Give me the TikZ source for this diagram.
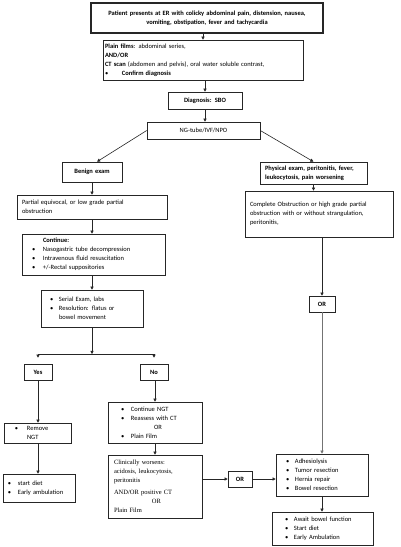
\documentclass[tikz,border=0pt]{standalone}
\usepackage{fontspec}
\setmainfont{Carlito}
\newfontfamily\serifface{Liberation Serif}
\usetikzlibrary{arrows.meta}
\newcommand\fsz{\fontsize{6.5}{9}\selectfont}
\newcommand\bul[1]{\makebox[#1][l]{\textbullet}}
\begin{document}
\begin{tikzpicture}[x=1pt,y=-1pt,
  box/.style={draw=black!85, line width=0.6pt, inner xsep=2pt, inner ysep=1pt, align=left, font=\fsz},
  cbox/.style={box, align=center},
  arr/.style={draw=black!85, line width=0.6pt, -{Triangle[length=3.2pt,width=3.2pt]}},
  ln/.style={draw=black!85, line width=0.6pt}]
\useasboundingbox (0,0) rectangle (400,547);
\fill[white] (0,0) rectangle (400,547);

\node[cbox, line width=1.3pt, minimum width=232pt, minimum height=30pt, text width=228pt] (top) at (207,18)
  {\textbf{Patient presents at ER with colicky abdominal pain, distension, nausea,}\\\textbf{vomiting, obstipation, fever and tachycardia}};
\node[box, minimum width=200pt, minimum height=40pt, text width=196pt] (plain) at (203,60)
  {\textbf{Plain films}:  abdominal series,\\\textbf{AND/OR}\\\textbf{CT scan} (abdomen and pelvis), oral water soluble contrast,\\\bul{17pt}\textbf{Confirm diagnosis}};
\node[cbox, minimum width=74pt, minimum height=17pt, text width=70pt] (diag) at (205,100.5) {\textbf{Diagnosis: SBO}};
\node[cbox, minimum width=113pt, minimum height=17pt, text width=109pt] (ng) at (203.5,130.5) {NG-tube/IVF/NPO};
\node[cbox, minimum width=60pt, minimum height=20pt, text width=56pt] (benign) at (92,172) {\textbf{Benign exam}};
\node[box, minimum width=107pt, minimum height=22pt, text width=103pt] (phys) at (313.5,173)
  {\hspace*{3pt}\textbf{Physical exam, peritonitis, fever,}\\\hspace*{3pt}\textbf{leukocytosis, pain worsening}};
\node[box, minimum width=150pt, minimum height=24pt, text width=146pt] (partial) at (92,207)
  {\hspace*{3pt}Partial equivocal, or low grade partial\\\hspace*{3pt}obstruction};
\node[box, minimum width=148pt, minimum height=46pt, text width=144pt] (complete) at (319,214)
  {\hspace*{3pt}Complete Obstruction or high grade partial\\\hspace*{3pt}obstruction with or without strangulation,\\\hspace*{3pt}peritonitis,};
\node[box, minimum width=143pt, minimum height=41pt, text width=139pt] (cont) at (93.5,254.5)
  {\hspace*{19pt}\textbf{Continue:}\\\hspace*{8pt}\bul{11pt}Nasogastric tube decompression\\\hspace*{8pt}\bul{11pt}Intravenous fluid resuscitation\\\hspace*{8pt}\bul{11pt}+/-Rectal suppositories};
\node[box, minimum width=102pt, minimum height=37pt, text width=98pt] (serial) at (92,308.5)
  {\hspace*{7pt}\bul{9pt}Serial Exam, labs\\\hspace*{7pt}\bul{9pt}Resolution: flatus or\\\hspace*{16pt}bowel movement};
\node[cbox, minimum width=28pt, minimum height=16pt, text width=24pt] (yes) at (38,372) {\textbf{Yes}};
\node[cbox, minimum width=28pt, minimum height=16pt, text width=24pt] (no) at (154,372) {\textbf{No}};
\node[box, minimum width=67pt, minimum height=20pt, text width=63pt] (remove) at (37.5,433)
  {\hspace*{9pt}\bul{12pt}Remove\\\hspace*{21pt}NGT};
\node[box, minimum width=72pt, minimum height=28pt, text width=68pt] (diet) at (39,488)
  {\hspace*{3pt}\bul{10pt}start diet\\\hspace*{3pt}\bul{10pt}Early ambulation};
\node[box, minimum width=94pt, minimum height=41pt, text width=90pt] (cngt) at (155,422.5)
  {\hspace*{11pt}\bul{10pt}Continue NGT\\\hspace*{11pt}\bul{10pt}Reassess  with CT\\\hspace*{44pt}OR\\\hspace*{11pt}\bul{10pt}Plain Film};
\node[box, minimum width=94pt, minimum height=63pt, text width=90pt, font=\serifface\fsz] (clin) at (155,486.5)
  {\hspace*{4pt}Clinically worsens:\\\hspace*{4pt}acidosis, leukocytosis,\\\hspace*{4pt}peritonitis\\[3pt]\hspace*{4pt}AND/OR positive CT\\\hspace*{42pt}OR\\\hspace*{4pt}Plain Film};
\node[cbox, minimum width=26pt, minimum height=16pt, text width=22pt] (or1) at (322,304) {\textbf{OR}};
\node[cbox, minimum width=24pt, minimum height=16pt, text width=20pt] (or2) at (240,479) {\textbf{OR}};
\node[box, minimum width=92pt, minimum height=42pt, text width=88pt] (surg) at (322,475)
  {\hspace*{8pt}\bul{9pt}Adhesiolysis\\\hspace*{8pt}\bul{9pt}Tumor resection\\\hspace*{8pt}\bul{9pt}Hernia repair\\\hspace*{8pt}\bul{9pt}Bowel resection};
\node[box, minimum width=101pt, minimum height=33pt, text width=97pt] (await) at (322.5,528.5)
  {\hspace*{11pt}\bul{9pt}Await bowel function\\\hspace*{11pt}\bul{9pt}Start diet\\\hspace*{11pt}\bul{9pt}Early Ambulation};

% connectors
\draw[arr] (plain.north |- top.south) -- (plain.north);
\draw[arr] (diag.north |- plain.south) -- (diag.north);
\draw[arr] (diag.south) -- (diag.south |- ng.north);
\draw[arr] (ng.west) -- ([xshift=5pt]benign.north);
\draw[arr] (ng.east) -- (phys.north);
\draw[arr] (benign.south) -- (benign.south |- partial.north);
\draw[arr] (partial.south) -- (partial.south |- cont.north);
\draw[arr] (serial.north |- cont.south) -- (serial.north);
\draw[arr] (phys.south) -- (phys.south |- complete.north);
\draw[arr] (or1.north |- complete.south) -- (or1.north);
\draw[arr, draw=black!55, line width=0.9pt] (or1.south) -- (surg.north);
\coordinate (split) at (92,354);
\draw[arr] (serial.south) -- (split);
\draw[ln] (yes.north |- split) -- (no.north |- split);
\draw[arr, shorten >=6pt] (split) -| (yes.north);
\draw[arr, shorten >=6pt] (split) -| (no.north);
\draw[arr] (yes.south) -- (yes.south |- remove.north);
\draw[arr] (remove.south -| yes.south) -- (yes.south |- diet.north);
\draw[arr] (no.south -| cngt.north) -- (cngt.north);
\draw[arr] (cngt.south) -- (clin.north);
\draw[arr] (clin.east |- or2.west) -- (or2.west);
\draw[arr] (or2.east) -- (surg.west |- or2.east);
\draw[arr] (surg.south) -- (surg.south |- await.north);
\end{tikzpicture}
\end{document}
